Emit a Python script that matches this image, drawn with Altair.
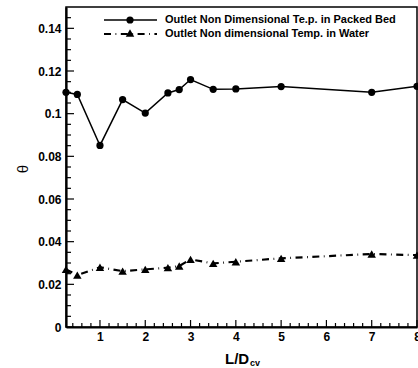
import altair as alt
import pandas as pd

# ---- data ----
ld = [0.25, 0.5, 1, 1.5, 2, 2.5, 2.75, 3, 3.5, 4, 5, 7, 8]
packed_bed = [0.1100, 0.1090, 0.0851, 0.1066, 0.1003, 0.1097, 0.1113, 0.1160,
              0.1114, 0.1116, 0.1127, 0.1100, 0.1128]
water = [0.0270, 0.0243, 0.0280, 0.0262, 0.0270, 0.0278, 0.0286, 0.0317,
         0.0298, 0.0306, 0.0322, 0.0342, 0.0337]

x_major = [1, 2, 3, 4, 5, 6, 7, 8]
x_minor = [0.4, 0.6, 0.8, 1.2, 1.4, 1.6, 1.8, 2.2, 2.4, 2.6, 2.8, 3.2, 3.4, 3.6, 3.8,
           4.2, 4.4, 4.6, 4.8, 5.2, 5.4, 5.6, 5.8, 6.2, 6.4, 6.6, 6.8, 7.2, 7.4, 7.6, 7.8]
y_major = [0, 0.02, 0.04, 0.06, 0.08, 0.1, 0.12, 0.14]
y_minor = [0.005, 0.01, 0.015, 0.025, 0.03, 0.035, 0.045, 0.05, 0.055, 0.065, 0.07, 0.075,
           0.085, 0.09, 0.095, 0.105, 0.11, 0.115, 0.125, 0.13, 0.135, 0.145]

legend_bed = "Outlet Non Dimensional Te.p. in Packed Bed"
legend_water = "Outlet Non dimensional Temp. in Water"

W, H = 351, 320
FONT = "Liberation Sans"
DASH = [7, 4.5, 0.8, 4.5]

df = pd.DataFrame({"ld": ld, "bed": packed_bed, "water": water})

xs = alt.Scale(domain=[0.25, 8], nice=False, zero=False)
ys = alt.Scale(domain=[0, 0.15], nice=False, zero=False)

xaxis = alt.Axis(values=x_major, ticks=False, grid=False, title=None,
                 domainColor="black", domainWidth=2.2,
                 labelFont=FONT, labelFontSize=12, labelFontWeight="bold",
                 labelColor="black", labelPadding=4, labelFlush=False)
yaxis = alt.Axis(values=y_major, ticks=False, grid=False, title=None,
                 domainColor="black", domainWidth=2.2,
                 labelExpr="'' + datum.value",
                 labelFont=FONT, labelFontSize=12, labelFontWeight="bold",
                 labelColor="black", labelPadding=5)

base = alt.Chart(df)
X = alt.X("ld:Q", scale=xs, axis=xaxis)

bed_line = base.mark_line(color="black", strokeWidth=1.5).encode(
    x=X, y=alt.Y("bed:Q", scale=ys, axis=yaxis))
bed_pts = base.mark_point(shape="circle", filled=True, color="black", size=52, opacity=1).encode(
    x=alt.X("ld:Q", scale=xs), y=alt.Y("bed:Q", scale=ys))
water_line = base.mark_line(color="black", strokeWidth=2.2, strokeDash=DASH).encode(
    x=alt.X("ld:Q", scale=xs), y=alt.Y("water:Q", scale=ys))
water_pts = base.mark_point(shape="triangle-up", filled=True, color="black", size=72, opacity=1).encode(
    x=alt.X("ld:Q", scale=xs), y=alt.Y("water:Q", scale=ys))

# inward ticks
xmaj = alt.Chart(pd.DataFrame({"v": x_major})).mark_rule(color="black", strokeWidth=1.2).encode(
    x=alt.X("v:Q", scale=xs), y=alt.value(H), y2=alt.value(H - 7))
xmin = alt.Chart(pd.DataFrame({"v": x_minor})).mark_rule(color="black", strokeWidth=1.2).encode(
    x=alt.X("v:Q", scale=xs), y=alt.value(H), y2=alt.value(H - 4))
ymaj = alt.Chart(pd.DataFrame({"v": y_major})).mark_rule(color="black", strokeWidth=1.2).encode(
    y=alt.Y("v:Q", scale=ys), x=alt.value(0), x2=alt.value(8))
ymin = alt.Chart(pd.DataFrame({"v": y_minor})).mark_rule(color="black", strokeWidth=1.2).encode(
    y=alt.Y("v:Q", scale=ys), x=alt.value(0), x2=alt.value(5))

# legend
one = pd.DataFrame({"a": [0]})
lg = alt.Chart(one)
leg1_line = lg.mark_rule(color="black", strokeWidth=1.5).encode(
    x=alt.value(38), x2=alt.value(91), y=alt.value(13))
leg1_pt = lg.mark_point(shape="circle", filled=True, color="black", size=52, opacity=1).encode(
    x=alt.value(64), y=alt.value(13))
leg2_line = lg.mark_rule(color="black", strokeWidth=2.2, strokeDash=DASH).encode(
    x=alt.value(38), x2=alt.value(91), y=alt.value(27))
leg2_pt = lg.mark_point(shape="triangle-up", filled=True, color="black", size=72, opacity=1).encode(
    x=alt.value(64), y=alt.value(26))
leg_txt = alt.Chart(pd.DataFrame({"t": [legend_bed, legend_water], "row": [13, 27]})).mark_text(
    align="left", baseline="middle", font=FONT, fontSize=11, fontWeight="bold", color="black"
).encode(x=alt.value(99), y=alt.Y("row:Q", scale=None), text="t:N")

# axis titles
xt = lg.mark_text(align="left", baseline="alphabetic", font=FONT, fontSize=15,
                  fontWeight="bold", color="black").encode(
    x=alt.value(159), y=alt.value(357), text=alt.value("L/D"))
xt_sub = lg.mark_text(align="left", baseline="alphabetic", font=FONT, fontSize=9,
                      fontWeight="bold", color="black").encode(
    x=alt.value(184), y=alt.value(359), text=alt.value("cv"))
yt = lg.mark_text(align="center", baseline="middle", font=FONT, fontSize=15,
                  angle=270, color="black").encode(
    x=alt.value(-43), y=alt.value(162), text=alt.value("θ"))

chart = alt.layer(
    bed_line, bed_pts, water_line, water_pts,
    xmaj, xmin, ymaj, ymin,
    leg1_line, leg1_pt, leg2_line, leg2_pt, leg_txt,
    xt, xt_sub, yt
).properties(
    width=W, height=H,
    autosize=alt.AutoSizeParams(type="none"),
    padding={"left": 66, "top": 7, "right": 1, "bottom": 41},
    background="white",
).configure_view(stroke="black", strokeWidth=1.5)

chart.save("out.html", embed_options={"renderer": "svg", "actions": False})
